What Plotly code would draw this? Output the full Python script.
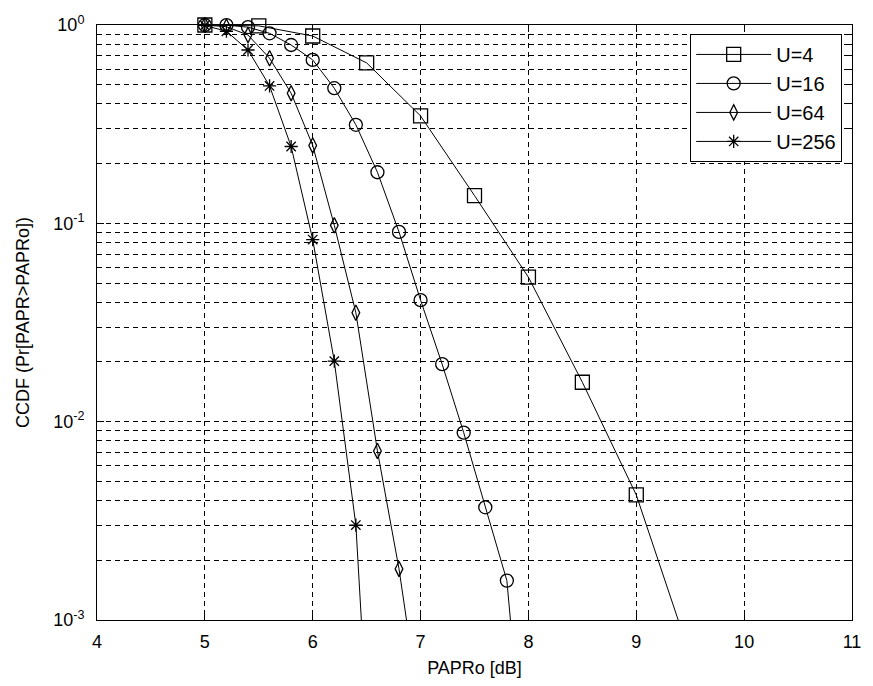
import plotly.graph_objects as go

# ---- data ----
u4_x = [5.0, 5.5, 6.0, 6.5, 7.0, 7.5, 8.0, 8.5, 9.0, 9.5]
u4_y = [1.0, 0.99, 0.88, 0.644, 0.348, 0.138, 0.0535, 0.0158, 0.00427, 0.00066]

u16_x = [5.0, 5.2, 5.4, 5.6, 5.8, 6.0, 6.2, 6.4, 6.6, 6.8, 7.0, 7.2, 7.4, 7.6, 7.8, 8.0]
u16_y = [1.0, 0.998, 0.975, 0.908, 0.793, 0.667, 0.48, 0.314, 0.181, 0.0905,
         0.041, 0.0195, 0.0088, 0.0037, 0.00158, 0.0001]

u64_x = [5.0, 5.2, 5.4, 5.6, 5.8, 6.0, 6.2, 6.4, 6.6, 6.8, 7.0]
u64_y = [1.0, 0.98, 0.89, 0.68, 0.453, 0.247, 0.0977, 0.0354, 0.00712, 0.00181, 0.00033]

u256_x = [5.0, 5.2, 5.4, 5.6, 5.8, 6.0, 6.2, 6.4, 6.6]
u256_y = [0.995, 0.93, 0.748, 0.493, 0.244, 0.0828, 0.0202, 0.00301, 0.00004]

series_names = ["U=4", "U=16", "U=64", "U=256"]
x_ticks = [4, 5, 6, 7, 8, 9, 10, 11]
y_major = [1e-3, 1e-2, 1e-1, 1]
y_major_text = ["10<sup>-3</sup>", "10<sup>-2</sup>", "10<sup>-1</sup>", "10<sup>0</sup>"]
y_minor = [m * 10.0 ** e for e in (-3, -2, -1) for m in range(2, 10)]

FONT = "Liberation Sans, Arial, sans-serif"
DASH = "5px,4px"

fig = go.Figure()
styles = [
    dict(symbol="square-open", size=14),
    dict(symbol="circle-open", size=13),
    dict(symbol="diamond-tall-open", size=11),
    dict(symbol="asterisk-open", size=11),
]
for name, xs, ys, st in zip(series_names,
                            [u4_x, u16_x, u64_x, u256_x],
                            [u4_y, u16_y, u64_y, u256_y], styles):
    fig.add_trace(go.Scatter(
        x=xs, y=ys, name=name, mode="lines+markers", legendgroup=name,
        line=dict(color="black", width=1),
        marker=dict(symbol=st["symbol"], size=st["size"], color="black",
                    line=dict(color="black", width=1.3)),
        cliponaxis=False,
    ))

fig.update_layout(
    width=873, height=686,
    margin=dict(l=97, r=16, t=25, b=65),
    paper_bgcolor="white", plot_bgcolor="white",
    font=dict(family=FONT, size=18, color="black"),
    showlegend=True,
    legend=dict(x=0.987, y=0.985, xanchor="right", yanchor="top",
                bgcolor="white", bordercolor="black", borderwidth=1,
                font=dict(size=20), tracegroupgap=7, itemwidth=75,
                traceorder="normal"),
)
fig.update_xaxes(
    range=[4, 11], tickvals=x_ticks, ticktext=[str(v) for v in x_ticks],
    showline=True, linecolor="black", linewidth=1, mirror="ticks",
    ticks="inside", ticklen=7, tickcolor="black", ticklabelstandoff=5,
    ticklabeloverflow="allow",
    showgrid=True, gridcolor="black", gridwidth=1, griddash=DASH,
    zeroline=False,
    title=dict(text="PAPRo [dB]", font=dict(size=18), standoff=10),
)
fig.update_yaxes(
    type="log", range=[-3, 0], tickvals=y_major, ticktext=y_major_text,
    showline=True, linecolor="black", linewidth=1, mirror="ticks",
    ticks="inside", ticklen=7, tickcolor="black", ticklabelstandoff=8,
    ticklabeloverflow="allow",
    showgrid=True, gridcolor="black", gridwidth=1, griddash=DASH,
    minor=dict(tickvals=y_minor, ticks="inside", ticklen=4, tickcolor="black",
               showgrid=True, gridcolor="black", gridwidth=1, griddash=DASH),
    zeroline=False,
    title=dict(text="CCDF (Pr[PAPR>PAPRo])", font=dict(size=18), standoff=18),
)

fig.write_html("out.html", config={"displayModeBar": False},
               post_script="document.body.style.margin='0px';"
                           "document.body.style.overflow='hidden';")
